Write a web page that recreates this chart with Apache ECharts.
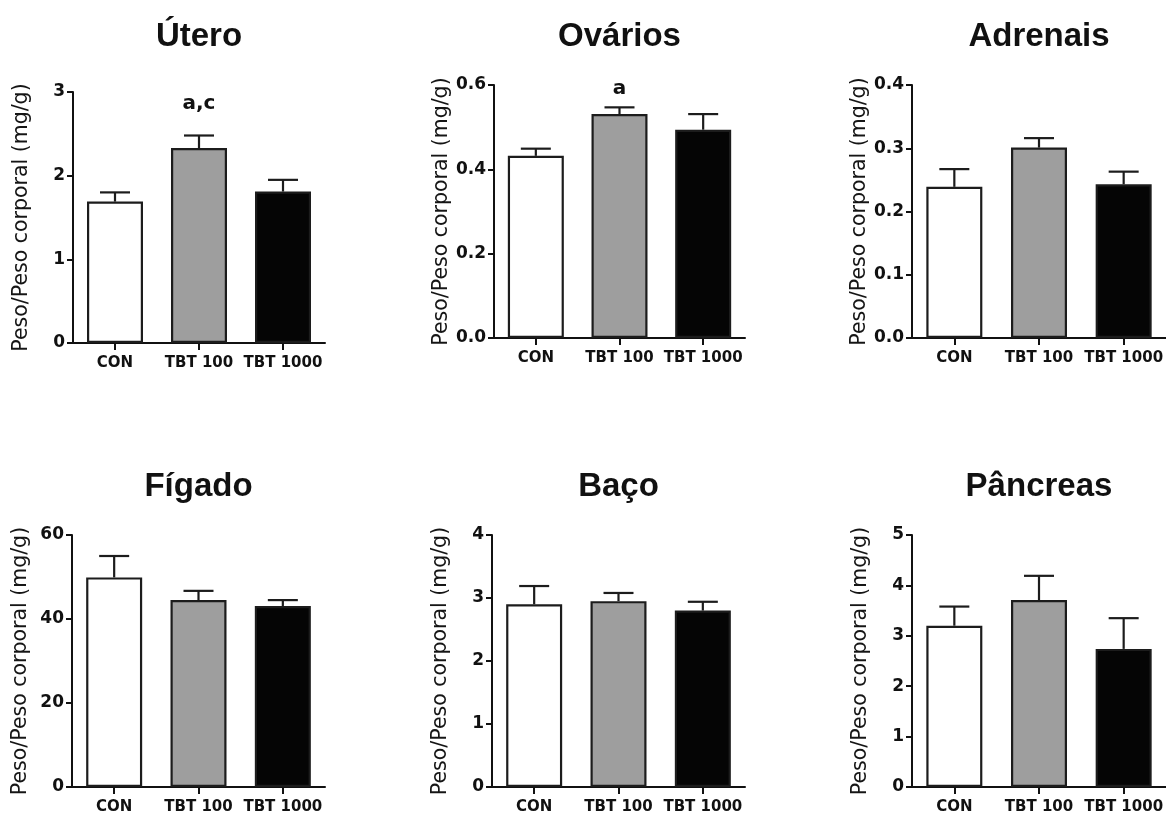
<!DOCTYPE html>
<html>
<head>
<meta charset="utf-8">
<script src="https://cdn.jsdelivr.net/npm/echarts@6/dist/echarts.min.js"></script>
<style>
  html, body { margin: 0; padding: 0; background: #ffffff; }
  #chart { width: 1166px; height: 814px; }
</style>
</head>
<body>
<div id="chart"></div>
<script>
// Groups and organ panels
const groups = ['CON', 'TBT 100', 'TBT 1000'];
const organs = ['Útero', 'Ovários', 'Adrenais', 'Fígado', 'Baço', 'Pâncreas'];
const yAxisName = 'Peso/Peso corporal (mg/g)';

// Relative organ weight: mean and SEM per group
const uteroMean = [1.69, 2.33, 1.81];
const uteroSem = [0.11, 0.15, 0.14];
const ovariosMean = [0.432, 0.531, 0.494];
const ovariosSem = [0.017, 0.016, 0.037];
const adrenaisMean = [0.239, 0.301, 0.243];
const adrenaisSem = [0.028, 0.015, 0.020];
const figadoMean = [49.9, 44.5, 43.1];
const figadoSem = [5.1, 2.2, 1.4];
const bacoMean = [2.90, 2.95, 2.80];
const bacoSem = [0.29, 0.13, 0.14];
const pancreasMean = [3.20, 3.71, 2.74];
const pancreasSem = [0.38, 0.48, 0.61];

// Significance letters above the bars
const uteroMarks = ['', 'a,c', ''];
const ovariosMarks = ['', 'a', ''];
const noMarks = ['', '', ''];

// Y tick labels per panel
const uteroTicks = ['0', '1', '2', '3'];
const ovariosTicks = ['0.0', '0.2', '0.4', '0.6'];
const adrenaisTicks = ['0.0', '0.1', '0.2', '0.3', '0.4'];
const figadoTicks = ['0', '20', '40', '60'];
const bacoTicks = ['0', '1', '2', '3', '4'];
const pancreasTicks = ['0', '1', '2', '3', '4', '5'];

const panelMeans = [uteroMean, ovariosMean, adrenaisMean, figadoMean, bacoMean, pancreasMean];
const panelSems = [uteroSem, ovariosSem, adrenaisSem, figadoSem, bacoSem, pancreasSem];
const panelMarks = [uteroMarks, ovariosMarks, noMarks, noMarks, noMarks, noMarks];
const panelTicks = [uteroTicks, ovariosTicks, adrenaisTicks, figadoTicks, bacoTicks, pancreasTicks];

// Plot-area placement (pixels) and title positions
const layout = [
  { left: 73,  top: 92,  width: 252, height: 251, titleY: 37,  markGap: 22 },
  { left: 494, top: 85,  width: 251, height: 253, titleY: 37,  markGap: 9 },
  { left: 912, top: 85,  width: 254, height: 253, titleY: 37,  markGap: 9 },
  { left: 72,  top: 535, width: 253, height: 252, titleY: 487, markGap: 9 },
  { left: 492, top: 535, width: 253, height: 252, titleY: 487, markGap: 9 },
  { left: 912, top: 535, width: 254, height: 252, titleY: 487, markGap: 9 }
];

const barFills = ['#ffffff', '#9e9e9e', '#050505'];
const ink = '#111111';
const sans = '"DejaVu Sans", "Liberation Sans", Arial, sans-serif';
const arial = '"Liberation Sans", Arial, sans-serif';

const grid = [], xAxis = [], yAxis = [], series = [], graphic = [];

organs.forEach((organ, p) => {
  const L = layout[p];
  const ticks = panelTicks[p];
  const step = parseFloat(ticks[1]);
  const maxV = parseFloat(ticks[ticks.length - 1]);

  grid.push({
    left: L.left, top: L.top, width: L.width, height: L.height,
    containLabel: false, outerBoundsMode: 'none'
  });

  xAxis.push({
    type: 'category', gridIndex: p, data: groups,
    axisLine: { show: true, lineStyle: { color: ink, width: 2 } },
    axisTick: { show: true, alignWithLabel: true, length: 7, lineStyle: { color: ink, width: 2 } },
    axisLabel: {
      interval: 0, margin: 13, color: ink, fontFamily: sans,
      fontWeight: 'bold', fontSize: 15, hideOverlap: false
    },
    splitLine: { show: false }
  });

  yAxis.push({
    type: 'value', gridIndex: p, min: 0, max: maxV, interval: step,
    axisLine: { show: true, lineStyle: { color: ink, width: 2 } },
    axisTick: { show: true, length: 6, lineStyle: { color: ink, width: 2 } },
    axisLabel: {
      margin: 8, color: ink, fontFamily: sans, fontWeight: 'bold', fontSize: 17,
      formatter: (v) => ticks[Math.round(v / step)]
    },
    splitLine: { show: false },
    name: yAxisName, nameLocation: 'middle', nameGap: 41, nameRotate: 90,
    nameTextStyle: { color: '#151515', fontFamily: sans, fontSize: 20.5 }
  });

  const means = panelMeans[p];
  const sems = panelSems[p];
  const marks = panelMarks[p];

  series.push({
    type: 'bar', xAxisIndex: p, yAxisIndex: p, barWidth: 56,
    itemStyle: { borderColor: '#1c1c1c', borderWidth: 2.2 },
    data: means.map((v, i) => ({ value: v, itemStyle: { color: barFills[i] } })),
    silent: true, z: 2
  });

  // Upper error bar with cap, plus the group letters above it
  series.push({
    type: 'custom', xAxisIndex: p, yAxisIndex: p, z: 3, silent: true,
    data: means.map((v, i) => [i, v, v + sems[i]]),
    renderItem: (params, api) => {
      const xi = api.value(0);
      const base = api.coord([xi, api.value(1)]);
      const tip = api.coord([xi, api.value(2)]);
      const stroke = { stroke: '#1c1c1c', lineWidth: 2.2 };
      const children = [
        { type: 'line', shape: { x1: base[0], y1: base[1], x2: tip[0], y2: tip[1] }, style: stroke },
        { type: 'line', shape: { x1: tip[0] - 15, y1: tip[1], x2: tip[0] + 15, y2: tip[1] }, style: stroke }
      ];
      const mark = marks[params.dataIndex];
      if (mark) {
        children.push({
          type: 'text',
          x: tip[0], y: tip[1] - L.markGap,
          style: {
            text: mark, fill: ink,
            font: 'bold 20px ' + sans,
            align: 'center', verticalAlign: 'bottom',
            textAlign: 'center', textVerticalAlign: 'bottom'
          }
        });
      }
      return { type: 'group', children };
    }
  });

  graphic.push({
    type: 'text',
    x: L.left + L.width / 2, y: L.titleY,
    style: {
      text: organ, fill: ink,
      font: 'bold 33px ' + arial,
      align: 'center', verticalAlign: 'middle',
      textAlign: 'center', textVerticalAlign: 'middle'
    }
  });
});

const chart = echarts.init(document.getElementById('chart'), null, { renderer: 'canvas' });
chart.setOption({
  backgroundColor: '#ffffff',
  animation: false,
  grid, xAxis, yAxis, series, graphic
});
</script>
</body>
</html>
